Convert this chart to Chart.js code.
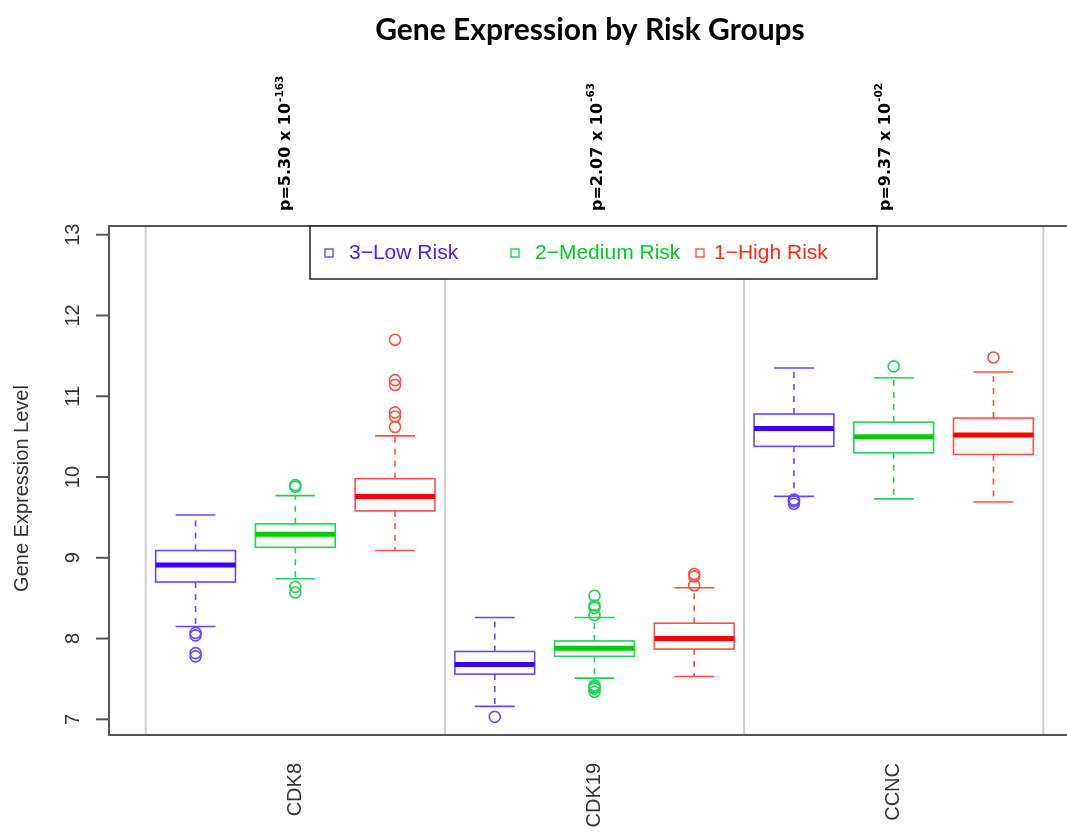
<!DOCTYPE html>
<html>
<head>
<meta charset="utf-8">
<script src="https://cdn.jsdelivr.net/npm/chart.js@4.4.1/dist/chart.umd.min.js"></script>
<style>
html,body{margin:0;padding:0;overflow:hidden;background:#fff;width:1067px;height:832px;}
canvas{display:block;}
</style>
</head>
<body>
<canvas id="c" width="1095" height="832" style="width:1095px;height:832px"></canvas>
<script>
// ---------------- data ----------------
const categories = ['CDK8', 'CDK19', 'CCNC'];
const groupLabels = ['3\u2212Low Risk', '2\u2212Medium Risk', '1\u2212High Risk'];
// five-number summaries per category: [lower whisker, Q1, median, Q3, upper whisker]
const lowRisk    = [[8.15, 8.70, 8.91, 9.09, 9.53], [7.16, 7.56, 7.68, 7.84, 8.26], [9.76, 10.38, 10.60, 10.78, 11.35]];
const mediumRisk = [[8.74, 9.13, 9.29, 9.42, 9.77], [7.51, 7.78, 7.88, 7.97, 8.26], [9.73, 10.30, 10.50, 10.68, 11.23]];
const highRisk   = [[9.09, 9.58, 9.76, 9.98, 10.51], [7.53, 7.87, 8.00, 8.19, 8.63], [9.69, 10.28, 10.52, 10.73, 11.30]];
// outliers per category
const lowOutliers    = [[8.07, 8.04, 7.82, 7.78], [7.03], [9.72, 9.70, 9.67]];
const mediumOutliers = [[9.90, 9.88, 8.64, 8.57], [8.53, 8.41, 8.38, 8.29, 7.42, 7.40, 7.38, 7.34], [11.37]];
const highOutliers   = [[11.70, 11.20, 11.14, 10.80, 10.75, 10.62], [8.80, 8.77, 8.66], [11.48]];
const pValues    = ['5.30', '2.07', '9.37'];
const pExponents = ['-163', '-63', '-02'];
const yTicks = [7, 8, 9, 10, 11, 12, 13];
const titleText = 'Gene Expression by Risk Groups';
const yAxisTitle = 'Gene Expression Level';

// ---------------- styles ----------------
const lineColors   = ['#6a46ff', '#1fd455', '#ff5140'];
const medianColors = ['#3d00ff', '#00cc00', '#ff0000'];
const textColors   = ['#4a1cff', '#00cc22', '#ff2a1a'];
const groupStats = [lowRisk, mediumRisk, highRisk];
const groupOutliers = [lowOutliers, mediumOutliers, highOutliers];
const nGroups = groupStats.length;

function posOf(cat, g) { return cat * nGroups + g + 1; }

const datasets = groupOutliers.map((outs, g) => ({
  label: groupLabels[g],
  data: outs.flatMap((vals, cat) => vals.map(v => ({ x: posOf(cat, g), y: v }))),
  pointStyle: 'circle',
  pointRadius: 5.5,
  pointBorderWidth: 1.6,
  pointBorderColor: lineColors[g],
  pointBackgroundColor: 'rgba(0,0,0,0)',
  showLine: false
}));

const boxPlugin = {
  id: 'boxPlugin',
  beforeDatasetsDraw(chart) {
    const { ctx, chartArea: a, scales: { x, y } } = chart;
    ctx.save();
    // separators between genes
    ctx.strokeStyle = '#d0d0d0';
    ctx.lineWidth = 2;
    for (let i = 0; i <= categories.length; i++) {
      const px = x.getPixelForValue(i * nGroups + 0.5);
      ctx.beginPath(); ctx.moveTo(px, a.top); ctx.lineTo(px, a.bottom); ctx.stroke();
    }
    // boxes
    groupStats.forEach((stats, g) => {
      stats.forEach((s, cat) => {
        const p = posOf(cat, g);
        const xl = x.getPixelForValue(p - 0.4), xr = x.getPixelForValue(p + 0.4);
        const cl = x.getPixelForValue(p - 0.2), cr = x.getPixelForValue(p + 0.2);
        const xc = x.getPixelForValue(p);
        const [mn, q1, md, q3, mx] = s.map(v => y.getPixelForValue(v));
        ctx.strokeStyle = lineColors[g];
        ctx.lineWidth = 1.6;
        // whiskers dashed
        ctx.setLineDash([6, 6]);
        ctx.beginPath();
        ctx.moveTo(xc, q3); ctx.lineTo(xc, mx);
        ctx.moveTo(xc, q1); ctx.lineTo(xc, mn);
        ctx.stroke();
        ctx.setLineDash([]);
        // caps
        ctx.beginPath();
        ctx.moveTo(cl, mx); ctx.lineTo(cr, mx);
        ctx.moveTo(cl, mn); ctx.lineTo(cr, mn);
        ctx.stroke();
        // box
        ctx.strokeRect(xl, q3, xr - xl, q1 - q3);
        // median
        ctx.strokeStyle = medianColors[g];
        ctx.lineWidth = 5;
        ctx.beginPath(); ctx.moveTo(xl, md); ctx.lineTo(xr, md); ctx.stroke();
      });
    });
    ctx.restore();
  },
  afterDatasetsDraw(chart) {
    const { ctx, chartArea: a, scales: { x, y } } = chart;
    ctx.save();
    // plot frame
    ctx.strokeStyle = '#555';
    ctx.lineWidth = 2;
    ctx.strokeRect(a.left, a.top, a.right - a.left, a.bottom - a.top);
    // y ticks + labels
    ctx.strokeStyle = '#555';
    ctx.fillStyle = '#333';
    ctx.font = '20px "Liberation Sans", Arial, sans-serif';
    yTicks.forEach(t => {
      const py = y.getPixelForValue(t);
      ctx.beginPath(); ctx.moveTo(a.left - 13, py); ctx.lineTo(a.left, py); ctx.stroke();
      ctx.save();
      ctx.translate(a.left - 36, py);
      ctx.rotate(-Math.PI / 2);
      ctx.textAlign = 'center'; ctx.textBaseline = 'middle';
      ctx.fillText(String(t), 0, 0);
      ctx.restore();
    });
    // y title
    ctx.save();
    ctx.translate(22, (a.top + a.bottom) / 2 + 8);
    ctx.rotate(-Math.PI / 2);
    ctx.textAlign = 'center'; ctx.textBaseline = 'middle';
    ctx.fillText(yAxisTitle, 0, 0);
    ctx.restore();
    // category labels
    categories.forEach((c, cat) => {
      const px = x.getPixelForValue(posOf(cat, 1));
      ctx.save();
      ctx.translate(px, a.bottom + 28);
      ctx.rotate(-Math.PI / 2);
      ctx.textAlign = 'right'; ctx.textBaseline = 'middle';
      ctx.fillText(c, 0, 0);
      ctx.restore();
    });
    // p-values
    const pOffsets = [-9, 3, -8];
    ctx.fillStyle = '#000';
    pValues.forEach((pv, cat) => {
      const px = x.getPixelForValue(posOf(cat, 1)) + pOffsets[cat];
      ctx.save();
      ctx.translate(px, a.top - 15);
      ctx.rotate(-Math.PI / 2);
      ctx.textAlign = 'left'; ctx.textBaseline = 'middle';
      ctx.font = 'bold 16px "DejaVu Sans", sans-serif';
      const main = 'p=' + pv + ' x 10';
      ctx.fillText(main, 0, 0);
      const w = ctx.measureText(main).width;
      ctx.font = 'bold 10.5px "DejaVu Sans", sans-serif';
      ctx.fillText(pExponents[cat], w + 1, -6.5);
      ctx.restore();
    });
    // legend
    const lx = 310, ly = a.top, lw = 567, lh = 53;
    ctx.fillStyle = '#fff';
    ctx.fillRect(lx, ly, lw, lh);
    ctx.strokeStyle = '#222';
    ctx.lineWidth = 1.5;
    ctx.strokeRect(lx, ly, lw, lh);
    const sqX = [329, 515, 700], txX = [349, 535, 714];
    ctx.font = '21px "Liberation Sans", Arial, sans-serif';
    ctx.textBaseline = 'middle'; ctx.textAlign = 'left';
    groupLabels.forEach((lab, g) => {
      ctx.strokeStyle = lineColors[g];
      ctx.lineWidth = 1.4;
      ctx.strokeRect(sqX[g] - 4, ly + 27 - 4, 8, 8);
      ctx.fillStyle = textColors[g];
      ctx.fillText(lab, txX[g], ly + 27);
    });
    // title
    ctx.fillStyle = '#000';
    ctx.font = 'bold 30px Lato, "Open Sans", sans-serif';
    ctx.textAlign = 'center'; ctx.textBaseline = 'alphabetic';
    ctx.fillText(titleText, 590, 40);
    ctx.restore();
  }
};

new Chart(document.getElementById('c'), {
  type: 'scatter',
  data: { datasets },
  options: {
    responsive: false,
    animation: false,
    devicePixelRatio: 1,
    layout: { padding: { left: 109, top: 226, right: 15, bottom: 97 } },
    plugins: { legend: { display: false }, tooltip: { enabled: false }, title: { display: false } },
    scales: {
      x: { type: 'linear', min: 0.132, max: 9.868, display: false },
      y: { type: 'linear', min: 6.806, max: 13.108, display: false }
    }
  },
  plugins: [boxPlugin]
});
</script>
</body>
</html>
